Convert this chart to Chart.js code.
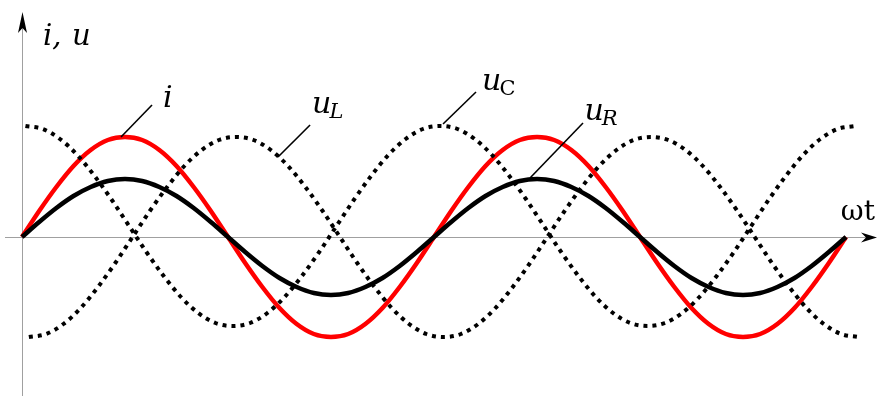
<!DOCTYPE html>
<html>
<head>
<meta charset="utf-8">
<style>
html,body{margin:0;padding:0;background:#fff;}
#wrap{width:877px;height:396px;position:relative;}
</style>
<script src="https://cdn.jsdelivr.net/npm/chart.js@4/dist/chart.umd.min.js"></script>
</head>
<body>
<div id="wrap"><canvas id="c" width="877" height="396"></canvas></div>
<script>
// phase (degrees of ωt) for current i and resistor voltage u_R
const phaseDeg = [0,15,30,45,60,75,90,105,120,135,150,165,180,195,210,225,240,255,270,285,300,315,330,345,360,375,390,405,420,435,450,465,480,495,510,525,540,555,570,585,600,615,630,645,660,675,690,705,720];
const iValues = [0,26,50,71,87,97,100,97,87,71,50,26,0,-26,-50,-71,-87,-97,-100,-97,-87,-71,-50,-26,0,26,50,71,87,97,100,97,87,71,50,26,0,-26,-50,-71,-87,-97,-100,-97,-87,-71,-50,-26,0];
const uRValues = [0,15,29,41,50,56,58,56,50,41,29,15,0,-15,-29,-41,-50,-56,-58,-56,-50,-41,-29,-15,0,15,29,41,50,56,58,56,50,41,29,15,0,-15,-29,-41,-50,-56,-58,-56,-50,-41,-29,-15,0];
// capacitor voltage u_C (dotted)
const uCPhase = [3,18.1,33.2,48.3,63.4,78.5,93.6,108.7,123.8,138.9,154,169.1,184.2,199.3,214.4,229.5,244.6,259.7,274.8,289.9,305,320.1,335.2,350.3,365.4,380.5,395.6,410.7,425.8,440.9,456,471.1,486.2,501.3,516.4,531.5,546.6,561.7,576.8,591.9,607,622.1,637.2,652.3,667.4,682.5,697.6,712.7,727.8];
const uCValues = [111,108,98,82,61,37,11,-15,-39,-60,-76,-86,-89,-86,-76,-60,-39,-15,11,37,61,82,98,108,111,108,98,82,61,37,11,-15,-39,-60,-76,-86,-89,-86,-76,-60,-39,-15,11,37,61,82,98,108,111];
// inductor voltage u_L (dotted)
const uLPhase = [6,21.1,36.2,51.3,66.4,81.5,96.6,111.7,126.8,141.9,157,172.1,187.2,202.3,217.4,232.5,247.6,262.7,277.8,292.9,308,323.1,338.2,353.3,368.4,383.5,398.6,413.7,428.8,443.9,459,474.1,489.2,504.3,519.4,534.5,549.6,564.7,579.8,594.9,610,625.1,640.2,655.3,670.4,685.5,700.6,715.7,730.8];
const uLValues = [-100,-97,-87,-71,-50,-26,0,26,50,71,87,97,100,97,87,71,50,26,0,-26,-50,-71,-87,-97,-100,-97,-87,-71,-50,-26,0,26,50,71,87,97,100,97,87,71,50,26,0,-26,-50,-71,-87,-97,-100];

const axisLabels = {y: ['i,', 'u'], x: 'ωt'};
const curveLabels = [
  {main:'i', sub:'', subItalic:true, at:[123.2,130], from:[86.5,100], to:[113.6,132]},
  {main:'u', sub:'L', subItalic:true, at:[253.5,124], from:[223.7,80], to:[251.7,112]},
  {main:'u', sub:'C', subItalic:false, at:[402,147], from:[367.9,113], to:[396.7,145]},
  {main:'u', sub:'R', subItalic:true, at:[491.5,117], from:[443.9,59], to:[490.2,114]}
];

const SERIF = '"DejaVu Serif", serif';
const toPts = (xs, ys) => xs.map((x, k) => ({x: x, y: ys[k]}));

const overlay = {
  id: 'overlay',
  beforeDatasetsDraw(chart) {
    const ctx = chart.ctx, sx = chart.scales.x, sy = chart.scales.y;
    const ox = Math.round(sx.getPixelForValue(0)) + 0.5;
    const oy = Math.round(sy.getPixelForValue(0)) + 0.5;
    ctx.save();
    ctx.strokeStyle = '#a0a0a0';
    ctx.lineWidth = 1;
    ctx.beginPath();
    ctx.moveTo(ox, chart.height); ctx.lineTo(ox, 22);
    ctx.moveTo(5, oy); ctx.lineTo(868, oy);
    ctx.stroke();
    ctx.fillStyle = '#000';
    ctx.beginPath();
    ctx.moveTo(ox, 12); ctx.lineTo(ox + 4.5, 33); ctx.lineTo(ox, 28); ctx.lineTo(ox - 4.5, 33); ctx.closePath();
    ctx.fill();
    ctx.beginPath();
    ctx.moveTo(877, oy); ctx.lineTo(861, oy - 5); ctx.lineTo(866, oy); ctx.lineTo(861, oy + 5); ctx.closePath();
    ctx.fill();
    ctx.restore();
  },
  afterDatasetsDraw(chart) {
    const ctx = chart.ctx, sx = chart.scales.x, sy = chart.scales.y;
    const px = v => sx.getPixelForValue(v[0]);
    const py = v => sy.getPixelForValue(v[1]);
    ctx.save();
    ctx.fillStyle = '#000';
    ctx.strokeStyle = '#000';
    ctx.lineWidth = 1.6;
    ctx.textBaseline = 'alphabetic';
    ctx.font = 'italic 29px ' + SERIF;
    ctx.fillText(axisLabels.y[0], sx.getPixelForValue(18.4), sy.getPixelForValue(192));
    ctx.fillText(axisLabels.y[1], sx.getPixelForValue(43.7), sy.getPixelForValue(192));
    ctx.font = '28px ' + SERIF;
    ctx.fillText(axisLabels.x, sx.getPixelForValue(715.5), sy.getPixelForValue(17));
    curveLabels.forEach(l => {
      ctx.beginPath();
      ctx.moveTo(px(l.from), py(l.from));
      ctx.lineTo(px(l.to), py(l.to));
      ctx.stroke();
      const x = px(l.at), y = py(l.at);
      ctx.font = 'italic 30px ' + SERIF;
      ctx.fillText(l.main, x, y);
      if (l.sub) {
        const w = ctx.measureText(l.main).width;
        ctx.font = (l.subItalic ? 'italic ' : '') + '21px ' + SERIF;
        ctx.fillText(l.sub, x + w - 2, y + 5);
      }
    });
    ctx.restore();
  }
};

const dotted = {borderColor:'#000', borderWidth:4, borderDash:[4,5], borderCapStyle:'butt', pointRadius:0, fill:false, cubicInterpolationMode:'monotone'};

new Chart(document.getElementById('c'), {
  type: 'line',
  data: {
    datasets: [
      Object.assign({label:'u_C', data: toPts(uCPhase, uCValues)}, dotted),
      Object.assign({label:'u_L', data: toPts(uLPhase, uLValues)}, dotted),
      {label:'u_R', data: toPts(phaseDeg, uRValues), borderColor:'#000', borderWidth:4.5, pointRadius:0, fill:false, cubicInterpolationMode:'monotone'},
      {label:'i', data: toPts(phaseDeg, iValues), borderColor:'#ff0000', borderWidth:4.5, pointRadius:0, fill:false, cubicInterpolationMode:'monotone'}
    ]
  },
  options: {
    responsive: false,
    animation: false,
    layout: {padding: 0},
    plugins: {legend:{display:false}, tooltip:{enabled:false}, title:{display:false}},
    scales: {
      x: {type:'linear', min:-19.223, max:747.08, display:false},
      y: {type:'linear', min:-159, max:237, display:false}
    }
  },
  plugins: [overlay]
});
</script>
</body>
</html>
